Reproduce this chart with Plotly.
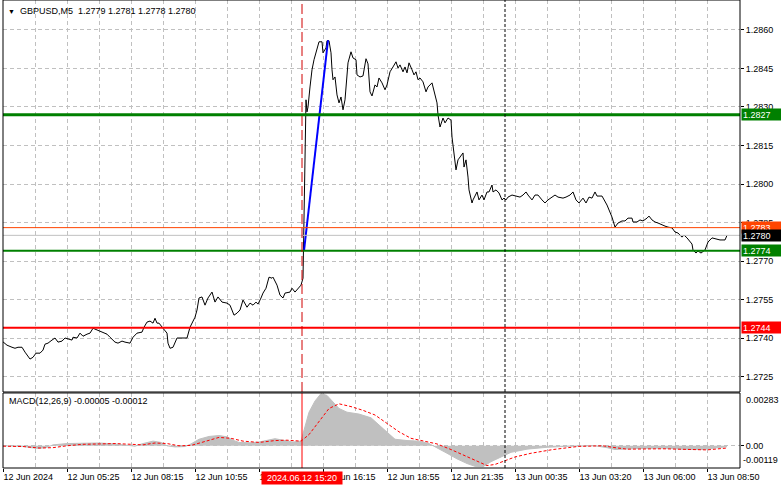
import plotly.graph_objects as go

# ---------------- data ----------------
price_bar = [0, 2, 4.5, 6, 7.5, 9.5, 11, 13.5, 15, 16.5, 18.5, 20, 21, 22.5, 24.5, 26, 27.5, 29.5, 31, 32.5,
             34.5, 35, 37, 38.5, 40, 42, 43.5, 45, 47, 49.5, 52, 53.5, 56, 57.5, 59.5, 61, 63.5, 65, 67, 69.5,
             70.5, 72, 73.5, 75, 76, 77, 78, 80, 82, 82.5, 83.5, 85, 87, 88.5, 92, 93.5, 96, 97, 98, 99.5,
             101, 102.5, 104.5, 106, 107.5, 109.5, 112, 113.5, 114.5, 115.5, 117, 118.5, 120, 122, 123.5, 125,
             126.5, 127.5, 129, 130, 131.5, 133, 134.5, 135, 137, 138.5, 140, 141, 143.5, 144.5, 146, 147.5,
             149, 150, 151.5, 152, 152.5, 153.5, 154.5, 155.5, 157, 158, 159.5, 160, 161.5, 162, 163, 164,
             164.5, 165, 166, 167, 168, 169, 170, 171, 172.5, 174, 175, 176.5, 177, 178.5, 180, 181.5, 182.5,
             183.5, 184.5, 186, 187, 188, 189.5, 191, 192, 193.5, 195, 196.5, 197.5, 198.5, 200, 201, 202,
             203, 204.5, 205.5, 206.5, 207.5, 208.5, 210, 211.5, 212.5, 214.5, 215.5, 217, 217.5, 218.5, 220,
             221, 222.5, 224, 224.5, 225.5, 226.5, 227.5, 228.5, 230, 230.5, 231.5, 232.5, 233, 234.5, 235,
             237, 238, 239.5, 240.5, 242, 243, 244.5, 245, 246.5, 248, 249.5, 250.5, 251.5, 252.5, 254.5,
             256.5, 258.5, 260, 261.5, 262.5, 264.5, 266, 267.5, 269.5, 271, 272.5, 274.5, 276, 277.5, 280,
             281.5, 283.5, 285, 286.5, 288, 290, 291.5, 293, 294.5, 296, 297, 299.5, 302, 304.5, 306, 307.5,
             309.5, 311, 312.5, 314.5, 315, 317, 318.5, 320, 322, 323, 324.5, 326, 327.5, 329.5, 331, 332.5,
             334.5, 336, 337.5, 339.5, 340.5, 342, 343, 344.5, 345, 346.5, 347.5, 349, 351, 352.5, 354.5, 356,
             358.5, 361, 362]
price_val = [1.27385, 1.27372, 1.27364, 1.27360, 1.27364, 1.27364, 1.27345, 1.27318, 1.27325, 1.27341,
             1.27341, 1.27353, 1.27376, 1.27380, 1.27392, 1.27400, 1.27384, 1.27388, 1.27400, 1.27396,
             1.27392, 1.27403, 1.27400, 1.27419, 1.27407, 1.27415, 1.27419, 1.27438, 1.27431, 1.27423,
             1.27415, 1.27403, 1.27384, 1.27380, 1.27388, 1.27384, 1.27380, 1.27403, 1.27419, 1.27423,
             1.27442, 1.27462, 1.27466, 1.27458, 1.27477, 1.27458, 1.27458, 1.27438, 1.27419, 1.27380,
             1.27360, 1.27364, 1.27400, 1.27400, 1.27400, 1.27442, 1.27481, 1.27509, 1.27556, 1.27560,
             1.27528, 1.27556, 1.27579, 1.27540, 1.27560, 1.27540, 1.27536, 1.27528, 1.27509, 1.27489,
             1.27497, 1.27509, 1.27548, 1.27520, 1.27536, 1.27528, 1.27540, 1.27532, 1.27556, 1.27575,
             1.27594, 1.27637, 1.27633, 1.27637, 1.27606, 1.27567, 1.27556, 1.27575, 1.27579, 1.27594,
             1.27579, 1.27594, 1.27606, 1.27633, 1.28328, 1.28281, 1.28300, 1.28378, 1.28445, 1.28484,
             1.28523, 1.28554, 1.28554, 1.28511, 1.28530, 1.28558, 1.28558, 1.28511, 1.28445, 1.28406,
             1.28417, 1.28347, 1.28316, 1.28339, 1.28289, 1.28328, 1.28472, 1.28515, 1.28491, 1.28484,
             1.28425, 1.28417, 1.28421, 1.28488, 1.28468, 1.28359, 1.28343, 1.28386, 1.28378, 1.28413,
             1.28394, 1.28367, 1.28386, 1.28437, 1.28456, 1.28476, 1.28452, 1.28464, 1.28437, 1.28456,
             1.28433, 1.28472, 1.28445, 1.28425, 1.28437, 1.28406, 1.28413, 1.28398, 1.28359, 1.28378,
             1.28394, 1.28367, 1.28316, 1.28269, 1.28222, 1.28257, 1.28238, 1.28257, 1.28249, 1.28183,
             1.28121, 1.28055, 1.28094, 1.28105, 1.28121, 1.28066, 1.28094, 1.28027, 1.27977, 1.27926,
             1.27938, 1.27969, 1.27938, 1.27957, 1.27938, 1.27969, 1.27969, 1.27996, 1.27969, 1.27977,
             1.27965, 1.27938, 1.27945, 1.27938, 1.27949, 1.27957, 1.27953, 1.27949, 1.27957, 1.27969,
             1.27957, 1.27938, 1.27957, 1.27957, 1.27938, 1.27926, 1.27938, 1.27949, 1.27957, 1.27949,
             1.27945, 1.27949, 1.27957, 1.27969, 1.27938, 1.27926, 1.27945, 1.27926, 1.27949, 1.27945,
             1.27969, 1.27953, 1.27953, 1.27918, 1.27871, 1.27832, 1.27848, 1.27856, 1.27856, 1.27867,
             1.27867, 1.27852, 1.27852, 1.27860, 1.27856, 1.27867, 1.27875, 1.27860, 1.27852, 1.27848,
             1.27840, 1.27836, 1.27832, 1.27829, 1.27813, 1.27809, 1.27793, 1.27801, 1.27790, 1.27782,
             1.27766, 1.27743, 1.27731, 1.27739, 1.27731, 1.27743, 1.27774, 1.27790, 1.27786, 1.27782,
             1.27782, 1.27800]

macd_bar = [0, 10, 14, 18, 22, 25, 32, 40, 48, 56, 62, 66, 70, 75, 79, 82, 86, 91, 94, 98, 103, 108, 112,
            115, 118, 124, 128, 132, 136, 140, 145, 149, 151, 153, 156, 159, 162, 165, 168, 172, 178, 184,
            188, 192, 196, 202, 208, 213, 217, 222, 227, 232, 236, 240, 244, 249, 254, 262, 272, 284, 296,
            302, 306, 316, 330, 340, 350, 356, 362]
macd_val = [0.0, -0.00003, -0.00010, -0.00014, -0.00008, 0.00005, 0.00012, 0.00014, 0.00015, 0.00010,
            0.00002, -0.00002, 0.00012, 0.00025, 0.00018, 0.0, -0.00006, -0.00004, 0.00010, 0.00035,
            0.00050, 0.00055, 0.00048, 0.00030, 0.00018, 0.00016, 0.00020, 0.00030, 0.00038, 0.00030,
            0.00020, 0.00025, 0.00100, 0.00180, 0.00240, 0.00280, 0.00270, 0.00235, 0.00200, 0.00180,
            0.00170, 0.00150, 0.00110, 0.00070, 0.00035, 0.00028, 0.00025, 0.00012, -0.00010, -0.00040,
            -0.00070, -0.00095, -0.00110, -0.00112, -0.00085, -0.00060, -0.00035, -0.00018, -0.00008,
            -0.00002, 0.0, -0.00010, -0.00020, -0.00015, -0.00012, -0.00018, -0.00020, -0.00012, -0.00005]

signal_bar = [0, 10, 18, 25, 32, 40, 56, 64, 70, 76, 82, 88, 94, 100, 108, 114, 120, 128, 136, 142, 149,
              153, 158, 163, 168, 174, 180, 186, 192, 198, 204, 210, 217, 224, 232, 238, 242, 246, 251, 256,
              264, 275, 288, 300, 306, 312, 330, 345, 352, 362]
signal_val = [-0.00002, -0.00004, -0.00012, -0.00010, 0.0, 0.00008, 0.00012, 0.00008, 0.00005, 0.00015,
              0.00012, 0.0, 0.00002, 0.00020, 0.00045, 0.00040, 0.00025, 0.00018, 0.00028, 0.00030,
              0.00025, 0.00060, 0.00130, 0.00200, 0.00225, 0.00210, 0.00190, 0.00165, 0.00120, 0.00075,
              0.00040, 0.00028, 0.00010, -0.00020, -0.00060, -0.00090, -0.00106, -0.00100, -0.00080,
              -0.00060, -0.00040, -0.00020, -0.00003, 0.0, -0.00010, -0.00018, -0.00016, -0.00020,
              -0.00022, -0.00012]

tick_bars = [0, 32, 64, 96, 128, 160, 192, 224, 256, 288, 320, 352]
tick_labels = ["12 Jun 2024", "12 Jun 05:25", "12 Jun 08:15", "12 Jun 10:55", "12 Jun 13:35",
               "12 Jun 16:15", "12 Jun 18:55", "12 Jun 21:35", "13 Jun 00:35", "13 Jun 03:20",
               "13 Jun 06:00", "13 Jun 08:50"]
price_ticks = [1.2725, 1.2740, 1.2755, 1.2770, 1.2785, 1.2800, 1.2815, 1.2830, 1.2845, 1.2860]

level_values = [1.2827, 1.2774, 1.2744, 1.2783, 1.2780]
level_labels = ["1.2827", "1.2774", "1.2744", "1.2783", "1.2780"]
blue_bar = [150.5, 162.5]
blue_val = [1.2774, 1.2856]
event_bar = 149.5
event_label = "2024.06.12 15:20"
day_bar = 251
title_text = "GBPUSD,M5\u00a0\u00a01.2779 1.2781 1.2778 1.2780"
macd_title = "MACD(12,26,9) -0.00005 -0.00012"
macd_max, macd_min = 0.00283, -0.00119

# ---------------- styles ----------------
level_colors = ["#008000", "#008000", "#FF0000", "#FF4500", "#C0C0C0"]
level_widths = [3, 2, 2, 1, 1]
box_colors = ["#008000", "#008000", "#FF0000", "#FF4500", "#000000"]
FONT = "Liberation Sans, Arial, sans-serif"
GRID = "#C0C0C0"

fig = go.Figure()
fig.add_trace(go.Scatter(x=price_bar, y=price_val, mode="lines",
                         line=dict(color="black", width=1), xaxis="x", yaxis="y"))
fig.add_trace(go.Scatter(x=blue_bar, y=blue_val, mode="lines",
                         line=dict(color="#0000FF", width=2), xaxis="x", yaxis="y"))
fig.add_trace(go.Scatter(x=macd_bar, y=macd_val, mode="lines", fill="tozeroy",
                         fillcolor="#C0C0C0", line=dict(color="#C0C0C0", width=1),
                         xaxis="x2", yaxis="y2"))
fig.add_trace(go.Scatter(x=signal_bar, y=signal_val, mode="lines",
                         line=dict(color="#FF0000", width=1, dash="3px,2px"),
                         xaxis="x2", yaxis="y2"))

shapes = []
for v, c, w in zip(level_values, level_colors, level_widths):
    shapes.append(dict(type="line", xref="x domain", yref="y", x0=0, x1=1, y0=v, y1=v,
                       line=dict(color=c, width=w)))
# vertical markers
shapes.append(dict(type="line", xref="x", yref="y domain", x0=event_bar, x1=event_bar, y0=0, y1=1,
                   line=dict(color="#D00000", width=1, dash="10px,4px")))
shapes.append(dict(type="line", xref="x2", yref="y2 domain", x0=event_bar, x1=event_bar, y0=0, y1=1,
                   line=dict(color="#FF0000", width=1)))
shapes.append(dict(type="line", xref="x", yref="y domain", x0=day_bar, x1=day_bar, y0=0, y1=1,
                   line=dict(color="black", width=1, dash="3px,2px")))
shapes.append(dict(type="line", xref="x2", yref="y2 domain", x0=day_bar, x1=day_bar, y0=0, y1=1,
                   line=dict(color="black", width=1, dash="3px,2px")))
# panel frames
shapes.append(dict(type="rect", xref="x domain", yref="y domain", x0=0, x1=1, y0=0, y1=1,
                   line=dict(color="black", width=1)))
shapes.append(dict(type="rect", xref="x2 domain", yref="y2 domain", x0=0, x1=1, y0=0, y1=1,
                   line=dict(color="black", width=1)))

annotations = [
    dict(xref="paper", yref="paper", x=0, y=1, xanchor="left", yanchor="middle", xshift=3, yshift=-11,
         text="▼", showarrow=False, font=dict(size=7, color="black", family=FONT)),
    dict(xref="paper", yref="paper", x=0, y=1, xanchor="left", yanchor="middle", xshift=15, yshift=-11,
         text=title_text, showarrow=False, font=dict(size=9, color="black", family=FONT)),
    dict(xref="paper", yref="y2 domain", x=0, y=1, xanchor="left", yanchor="top", xshift=4, yshift=-1,
         text=macd_title, showarrow=False, font=dict(size=9, color="black", family=FONT)),
    dict(xref="paper", yref="y2", x=1, y=macd_max, xanchor="left", yanchor="top", xshift=4, yshift=0,
         text="0.00283", showarrow=False, font=dict(size=9, color="black", family=FONT)),
    dict(xref="paper", yref="y2", x=1, y=macd_min, xanchor="left", yanchor="bottom", xshift=1, yshift=1,
         text="-0.00119", showarrow=False, font=dict(size=9, color="black", family=FONT)),
    dict(xref="x2", yref="paper", x=event_bar, y=0, xanchor="center", yanchor="top", yshift=-3,
         text=event_label, showarrow=False, bgcolor="#FF0000", width=80, height=12, borderpad=0,
         font=dict(size=9, color="white", family=FONT)),
]
for v, lab, bc in zip(level_values, level_labels, box_colors):
    annotations.append(dict(xref="paper", yref="y", x=1, y=v, xanchor="left", yanchor="middle", xshift=1,
                            text=lab, showarrow=False, bgcolor=bc, width=38, height=9, borderpad=1,
                            align="left", font=dict(size=9, color="white", family=FONT)))

main_bottom = 0.1624
macd_top = 0.1603
x_range = [0, 368.5]

fig.update_layout(
    width=781, height=489,
    margin=dict(l=3, r=41, t=0, b=21),
    paper_bgcolor="white", plot_bgcolor="white",
    showlegend=False, hovermode=False,
    font=dict(family=FONT, size=9, color="black"),
    shapes=shapes, annotations=annotations,
    xaxis=dict(domain=[0, 1], anchor="y", range=x_range, showticklabels=False,
               tickvals=tick_bars, ticks="", showgrid=True, gridcolor=GRID, griddash="4px,3px",
               gridwidth=1, zeroline=False, showline=False,
               minor=dict(dtick=16, tick0=0, showgrid=True, gridcolor=GRID, griddash="4px,3px", ticks="")),
    yaxis=dict(domain=[main_bottom, 1], anchor="x", side="right", range=[1.271897, 1.287168],
               tickvals=price_ticks, tickformat=".4f", ticks="outside", ticklen=3, tickcolor="black",
               showgrid=True, gridcolor=GRID, griddash="4px,3px", zeroline=False, showline=False,
               tickfont=dict(size=9, family=FONT, color="black")),
    xaxis2=dict(domain=[0, 1], anchor="y2", range=x_range, tickvals=tick_bars, ticktext=tick_labels,
                ticks="outside", ticklen=3, tickcolor="black", ticklabelposition="outside right",
                showgrid=True, gridcolor=GRID, griddash="4px,3px", zeroline=False, showline=False,
                tickfont=dict(size=9, family=FONT, color="black"),
                minor=dict(dtick=16, tick0=0, showgrid=True, gridcolor=GRID, griddash="4px,3px", ticks="")),
    yaxis2=dict(domain=[0, macd_top], anchor="x2", side="right", range=[macd_min, macd_max],
                tickvals=[0], ticktext=["0.00"], ticks="outside", ticklen=3, tickcolor="black",
                showgrid=True, gridcolor=GRID, griddash="4px,3px", zeroline=False, showline=False,
                tickfont=dict(size=9, family=FONT, color="black")),
)

fig.write_html("out.html", config={"displayModeBar": False},
               post_script="document.body.style.margin='0';document.body.style.overflow='hidden';")
